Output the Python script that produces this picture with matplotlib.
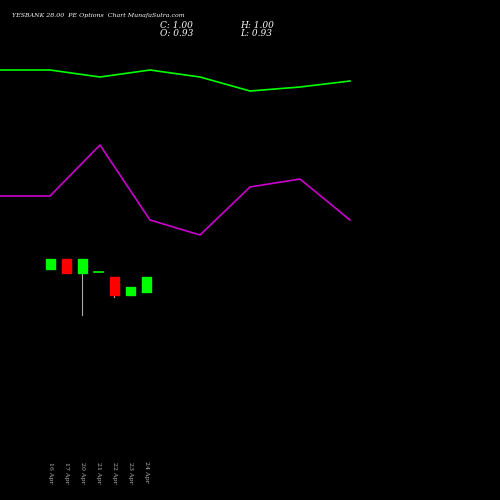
import matplotlib
matplotlib.use("Agg")
import matplotlib.pyplot as plt

# values read in chart units (screen-row scale, top = 0)
line_x = [0, 50, 100, 150, 200, 250, 300, 350]
green_line = [70, 70, 77, 70, 77, 91, 87, 81]
magenta_line = [196, 196, 145, 220, 235, 187, 179, 220]

dates = ["16 Apr", "17 Apr", "20 Apr", "21 Apr", "22 Apr", "23 Apr", "24 Apr"]
candle_x = [50, 66, 82, 98, 114, 130, 146]
opens = [269, 259, 273, 272, 277, 295, 292]
closes = [259, 273, 259, 272, 295, 287, 277]
highs = [259, 259, 259, 272, 277, 287, 277]
lows = [269, 273, 315, 272, 297, 295, 292]

fig = plt.figure(figsize=(5, 5), dpi=100, facecolor="black")
ax = fig.add_axes([0, 0, 1, 1], facecolor="black")
ax.set_xlim(0, 500)
ax.set_ylim(500, 0)
ax.axis("off")

ax.plot(line_x, green_line, color="#00ff00", lw=1.2)
ax.plot(line_x, magenta_line, color="#cc00cc", lw=1.2)

for x, o, c, h, l in zip(candle_x, opens, closes, highs, lows):
    col = "#00ff00" if c <= o else "#ff0000"
    ax.plot([x, x], [h, l], color="#aaaaaa", lw=0.8, zorder=1)
    top, bot = min(o, c), max(o, c)
    if bot - top < 1:
        ax.plot([x - 4.5, x + 4.5], [top, top], color=col, lw=1.2, zorder=2)
    else:
        ax.add_patch(plt.Rectangle((x - 4.5, top), 9, bot - top, color=col, zorder=2))

for x, d in zip(candle_x, dates):
    ax.text(x, 483, d, color="#bbbbbb", fontsize=4.5, rotation=-90,
            ha="center", va="bottom", family="DejaVu Serif")

ax.text(12, 15, "YESBANK 28.00  PE Options  Chart MunafaSutra.com", color="white",
        fontsize=4.5, style="italic", family="DejaVu Serif", va="center")
ax.text(160, 25, "C: 1.00", color="white", fontsize=6.5, style="italic", family="DejaVu Serif", va="center")
ax.text(160, 34, "O: 0.93", color="white", fontsize=6.5, style="italic", family="DejaVu Serif", va="center")
ax.text(240, 25, "H: 1.00", color="white", fontsize=6.5, style="italic", family="DejaVu Serif", va="center")
ax.text(240, 34, "L: 0.93", color="white", fontsize=6.5, style="italic", family="DejaVu Serif", va="center")

fig.savefig("out.png", dpi=100, facecolor="black")
